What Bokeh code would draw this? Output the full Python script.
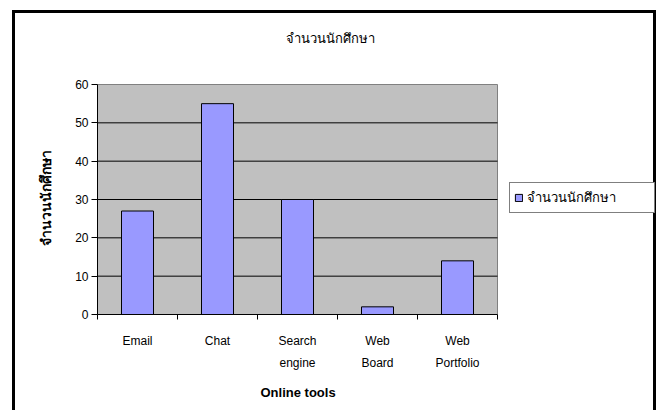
from bokeh.plotting import figure
from bokeh.models import FixedTicker, Legend, LegendItem, ColumnDataSource, Range1d, Label, Title
from bokeh.embed import file_html
from bokeh.resources import INLINE

categories = ["Email", "Chat", "Search\nengine", "Web\nBoard", "Web\nPortfolio"]
values = [27, 55, 30, 2, 14]
y_ticks = [0, 10, 20, 30, 40, 50, 60]
series_name = "จำนวนนักศึกษา"
title_text = "จำนวนนักศึกษา"
x_title = "Online tools"
y_title = "จำนวนนักศึกษา"

FONT = "Liberation Sans"

n = len(categories)
y_max = y_ticks[-1]
xs = [i + 0.5 for i in range(n)]
src = ColumnDataSource(dict(x=xs, top=values))

# canvas 644x400, drawn inside a 3px black border (left, top, right)
W, H = 644, 400
ML, MR, MT, MB = 82, 2, 7, 99
FW, FH = W - ML - MR, H - MT - MB
PX_X = 80.0
PX_Y = 230.0 / y_max
p = figure(width=W, height=H, output_backend="svg", toolbar_location=None,
           x_range=Range1d(0, FW / PX_X), y_range=Range1d(0, FH / PX_Y),
           min_border_left=ML, min_border_right=MR, min_border_top=MT, min_border_bottom=MB)
p.styles = {"margin-left": "12px", "margin-top": "10px",
            "border-left": "3px solid black", "border-top": "3px solid black",
            "border-right": "3px solid black"}
p.title.visible = False
p.background_fill_color = "white"
p.border_fill_color = "white"
p.outline_line_color = None

# plot area
p.quad(left=[0], right=[n], bottom=[0], top=[y_max],
       fill_color="#C0C0C0", line_color="#808080", line_width=1)
grid_y = y_ticks[1:-1]
p.segment(x0=[0] * len(grid_y), x1=[n] * len(grid_y), y0=grid_y, y1=grid_y,
          line_color="black", line_width=1)

r = p.vbar(x="x", top="top", width=0.4, bottom=0, source=src,
           fill_color="#9999FF", line_color="black", line_width=1)

# chart title
p.add_layout(Label(x=(330 - 97) / PX_X, y=y_max + (84 - 38) / PX_Y, text=title_text,
                   text_align="center", text_baseline="middle",
                   text_font=FONT, text_font_size="13px", text_color="black"))

# y axis
ya = p.yaxis[0]
ya.bounds = (0, y_max)
ya.ticker = FixedTicker(ticks=y_ticks)
ya.axis_line_color = "black"
ya.major_tick_line_color = "black"
ya.major_tick_out = 6
ya.major_tick_in = 0
ya.minor_tick_line_color = None
ya.major_label_text_font = FONT
ya.major_label_text_font_size = "12px"
ya.major_label_text_color = "black"
ya.major_label_standoff = 3

p.add_layout(Title(text=y_title, align="left", offset=69, vertical_align="middle",
                   standoff=35, text_font=FONT, text_font_size="14px",
                   text_font_style="bold", text_color="black"), "left")

# x axis
xa = p.xaxis[0]
xa.bounds = (0, n)
xa.ticker = FixedTicker(ticks=xs, minor_ticks=list(range(n + 1)))
xa.major_label_overrides = {x: c for x, c in zip(xs, categories)}
xa.axis_line_color = "black"
xa.major_tick_line_color = None
xa.minor_tick_line_color = "black"
xa.minor_tick_out = 5
xa.minor_tick_in = 0
xa.major_label_text_font = FONT
xa.major_label_text_font_size = "12px"
xa.major_label_text_color = "black"
xa.major_label_text_line_height = 1.6
xa.major_label_standoff = 13

p.add_layout(Title(text=x_title, align="left", offset=163, vertical_align="middle",
                   standoff=22, text_font=FONT, text_font_size="13px",
                   text_font_style="bold", text_color="black"), "below")

p.xgrid.grid_line_color = None
p.ygrid.grid_line_color = None

legend = Legend(items=[LegendItem(label=series_name, renderers=[r])],
                location=(412, 101), orientation="vertical",
                border_line_color="black", border_line_width=1,
                background_fill_color="white", background_fill_alpha=1,
                glyph_width=9, glyph_height=9, label_text_font=FONT,
                label_text_font_size="13px", label_text_color="black",
                padding=4, margin=0, label_standoff=4, label_height=16,
                label_width=123, spacing=0)
p.add_layout(legend, "center")

open("out.html", "w").write(file_html(p, INLINE))
